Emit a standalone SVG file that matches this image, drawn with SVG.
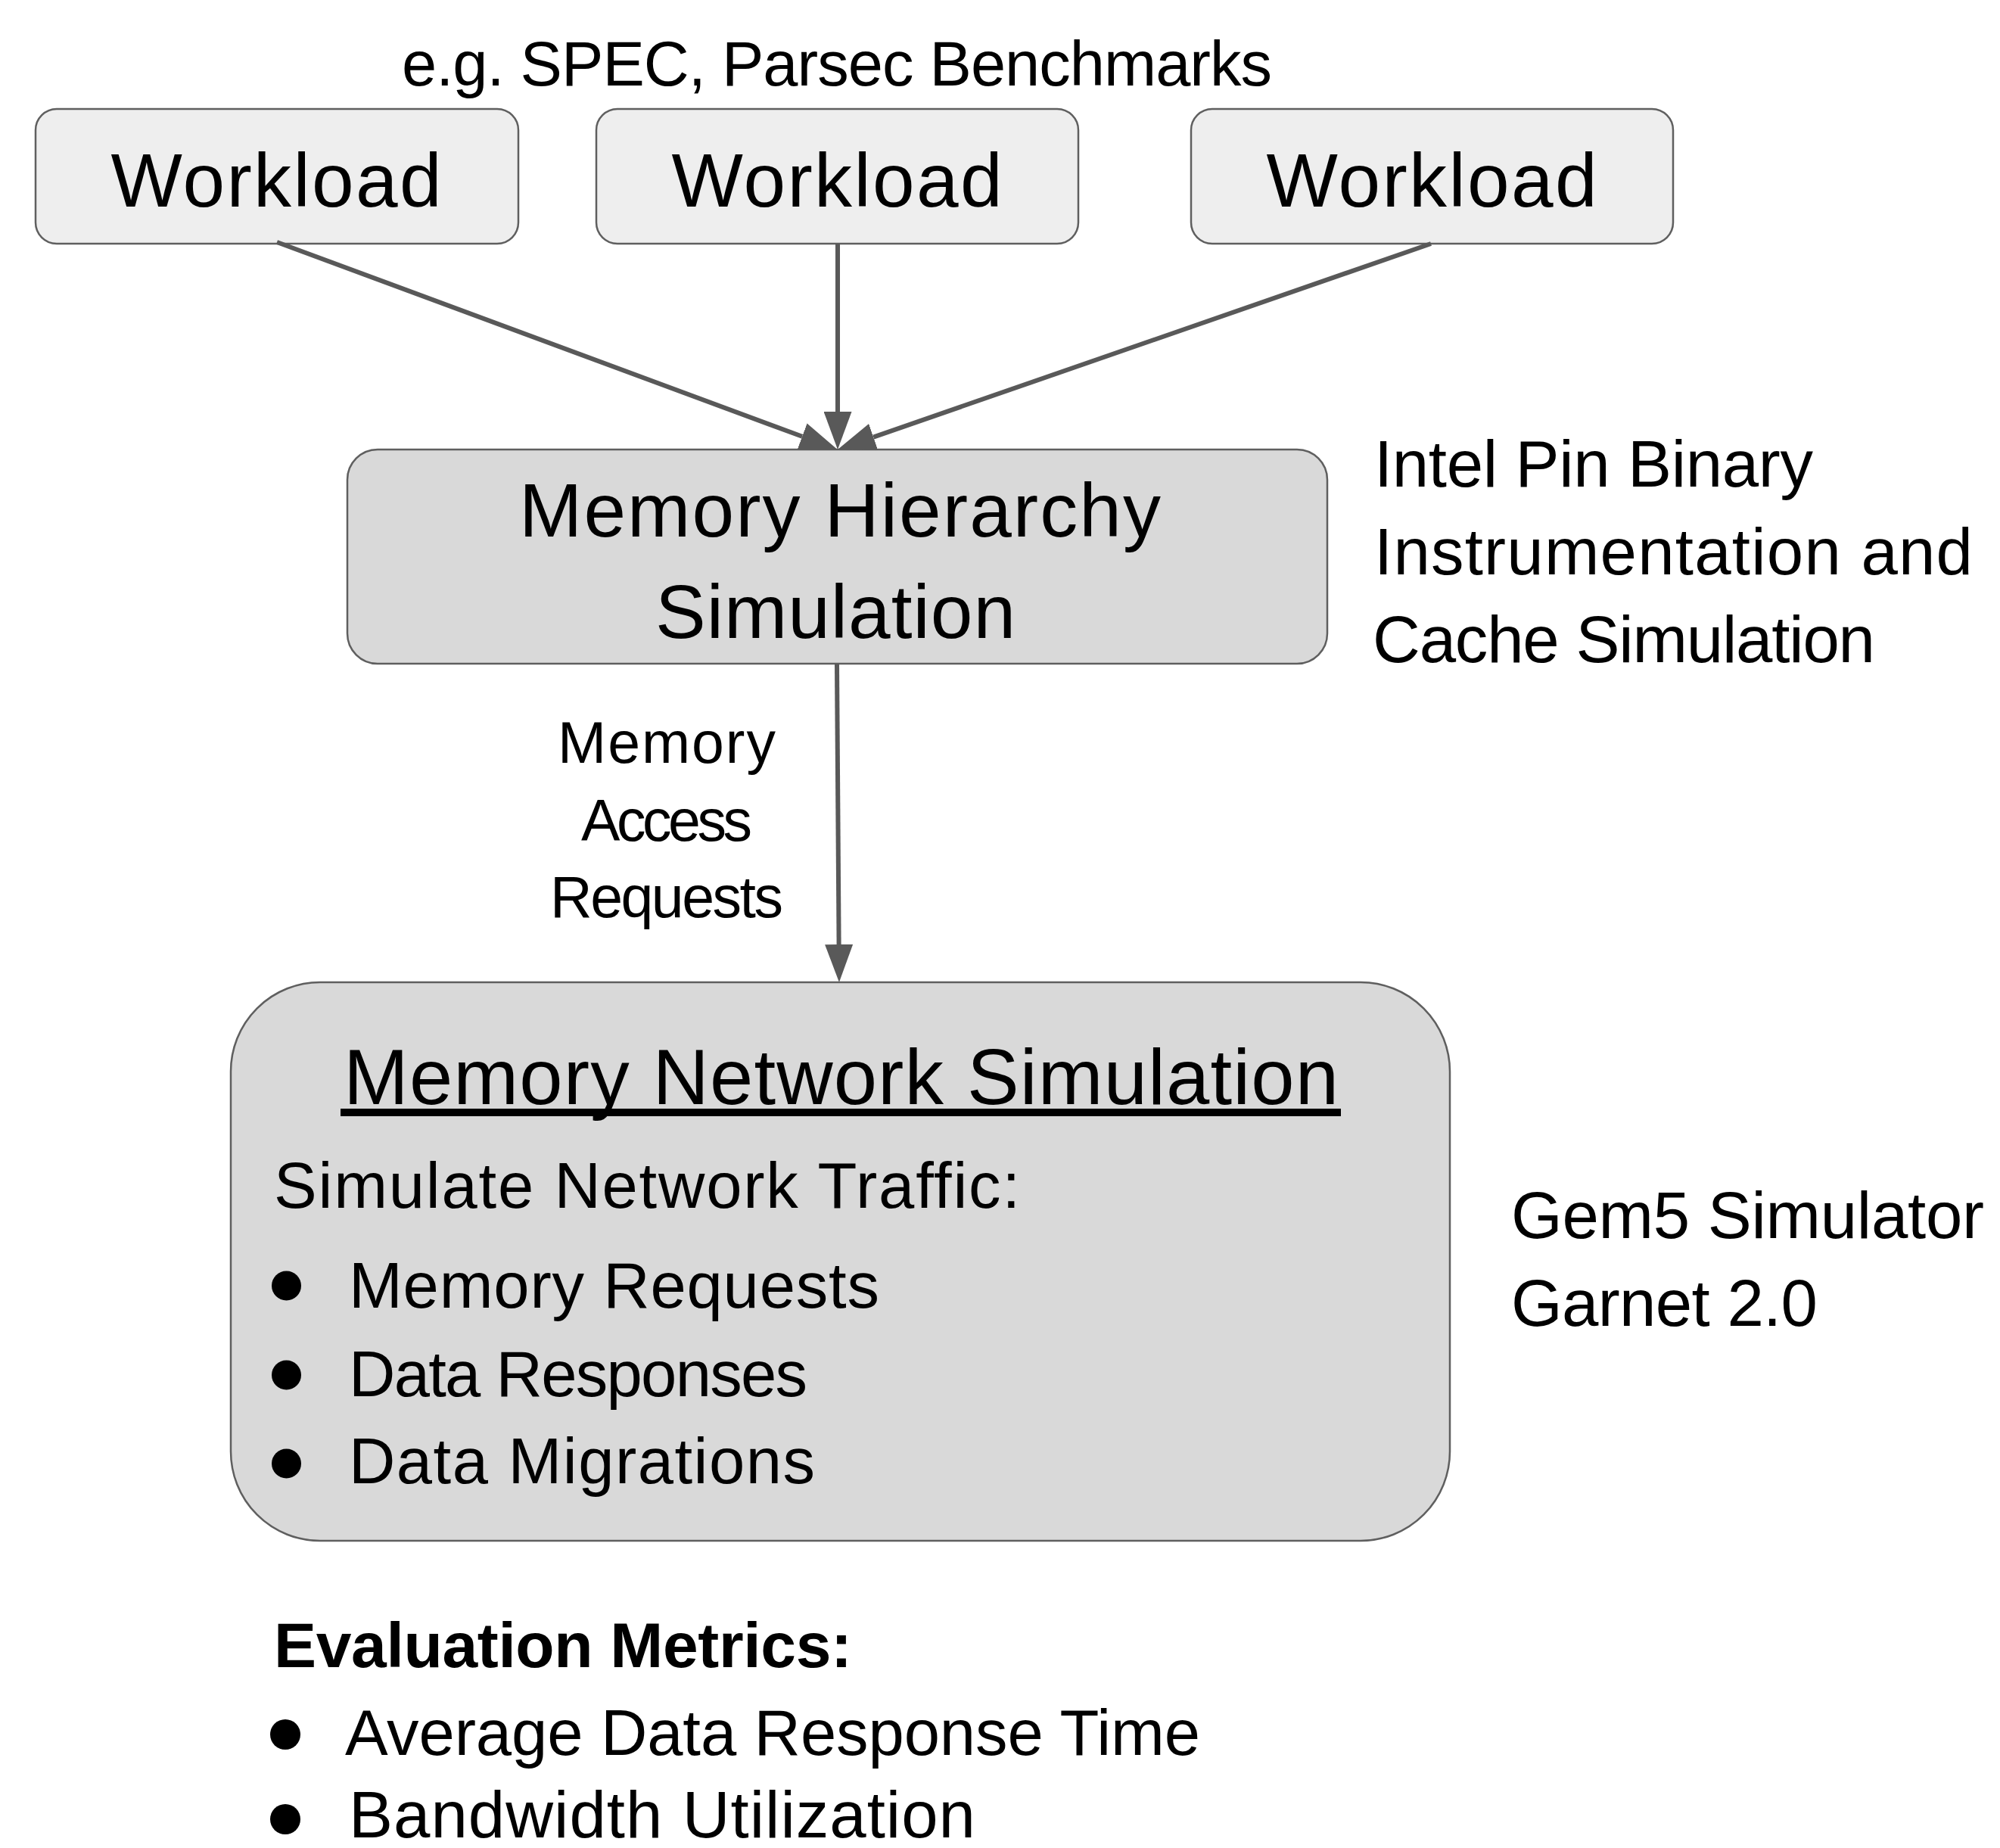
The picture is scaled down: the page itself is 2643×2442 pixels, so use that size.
<svg xmlns="http://www.w3.org/2000/svg" width="2643" height="2442" viewBox="0 0 2643 2442">
<style>
text{font-family:"Liberation Sans",Arial,sans-serif;fill:#000}
.wl{fill:#eeeeee;stroke:#5f5f5f;stroke-width:2.5}
.gr{fill:#d9d9d9;stroke:#5f5f5f;stroke-width:2.5}
.conn{stroke:#595959;stroke-width:6;fill:none;marker-end:url(#ah)}
.big{font-size:100px}
.mid{font-size:87px}
.sm{font-size:85px}
.bul{fill:#000}
</style>
<defs>
<marker id="ah" markerUnits="userSpaceOnUse" markerWidth="50" markerHeight="37" viewBox="0 0 50 37" refX="0" refY="18.5" orient="auto">
<path d="M0,0 L50,18.5 L0,37 z" fill="#595959"/>
</marker>
</defs>
<rect width="2643" height="2442" fill="#ffffff"/>
<text x="531" y="113" font-size="83" textLength="1150">e.g. SPEC, Parsec Benchmarks</text>
<g id="workload1">
<rect class="wl" x="47" y="144" width="638" height="178" rx="28"/>
<text class="big" x="365" y="273" text-anchor="middle" textLength="437">Workload</text>
</g>
<g id="workload2">
<rect class="wl" x="788" y="144" width="637" height="178" rx="28"/>
<text class="big" x="1106" y="273" text-anchor="middle" textLength="437">Workload</text>
</g>
<g id="workload3">
<rect class="wl" x="1574" y="144" width="637" height="178" rx="28"/>
<text class="big" x="1892" y="273" text-anchor="middle" textLength="437">Workload</text>
</g>
<g id="memory-hierarchy">
<rect class="gr" x="459" y="594" width="1295" height="283" rx="40"/>
<text x="1110" y="709" font-size="100" text-anchor="middle" textLength="848">Memory Hierarchy</text>
<text x="1104" y="843" font-size="100" text-anchor="middle" textLength="476">Simulation</text>
</g>
<g id="memory-network">
<rect class="gr" x="305" y="1298" width="1611" height="738" rx="118"/>
<text x="454" y="1459" font-size="103" textLength="1315">Memory Network Simulation</text>
<rect x="450" y="1465" width="1322" height="10" fill="#000"/>
<text class="sm" x="362" y="1596" textLength="986">Simulate Network Traffic:</text>
<circle class="bul" cx="378.5" cy="1699" r="19.5"/>
<circle class="bul" cx="378.5" cy="1817" r="19.5"/>
<circle class="bul" cx="378.5" cy="1934" r="19.5"/>
<text class="sm" x="461" y="1728" textLength="701">Memory Requests</text>
<text class="sm" x="461" y="1845" textLength="606">Data Responses</text>
<text class="sm" x="461" y="1960" textLength="616">Data Migrations</text>
</g>
<g id="connectors">
<line class="conn" x1="366" y1="320" x2="1060.1" y2="576.8"/>
<line class="conn" x1="1107" y1="322" x2="1107" y2="544"/>
<line class="conn" x1="1891" y1="322" x2="1154.2" y2="577.6"/>
<line class="conn" x1="1106" y1="877" x2="1108.6" y2="1248"/>
</g>
<g id="edge-label">
<text x="881" y="1008" font-size="77" text-anchor="middle" textLength="288">Memory</text>
<text x="881" y="1111" font-size="77" text-anchor="middle" textLength="226">Access</text>
<text x="881" y="1212" font-size="77" text-anchor="middle" textLength="308">Requests</text>
</g>
<g id="pin-note">
<text class="mid" x="1816" y="643" textLength="580">Intel Pin Binary</text>
<text class="mid" x="1816" y="759" textLength="791">Instrumentation and</text>
<text class="mid" x="1814" y="875" textLength="664">Cache Simulation</text>
</g>
<g id="gem5-note">
<text class="mid" x="1997" y="1636" textLength="625">Gem5 Simulator</text>
<text class="mid" x="1997" y="1752" textLength="405">Garnet 2.0</text>
</g>
<g id="metrics">
<text x="362" y="2203" font-size="84" font-weight="bold" textLength="764">Evaluation Metrics:</text>
<circle class="bul" cx="377" cy="2292" r="20"/>
<circle class="bul" cx="377" cy="2404" r="20"/>
<text x="456" y="2319" font-size="85" textLength="1130">Average Data Response Time</text>
<text x="461" y="2428" font-size="87" textLength="828">Bandwidth Utilization</text>
</g>
</svg>
